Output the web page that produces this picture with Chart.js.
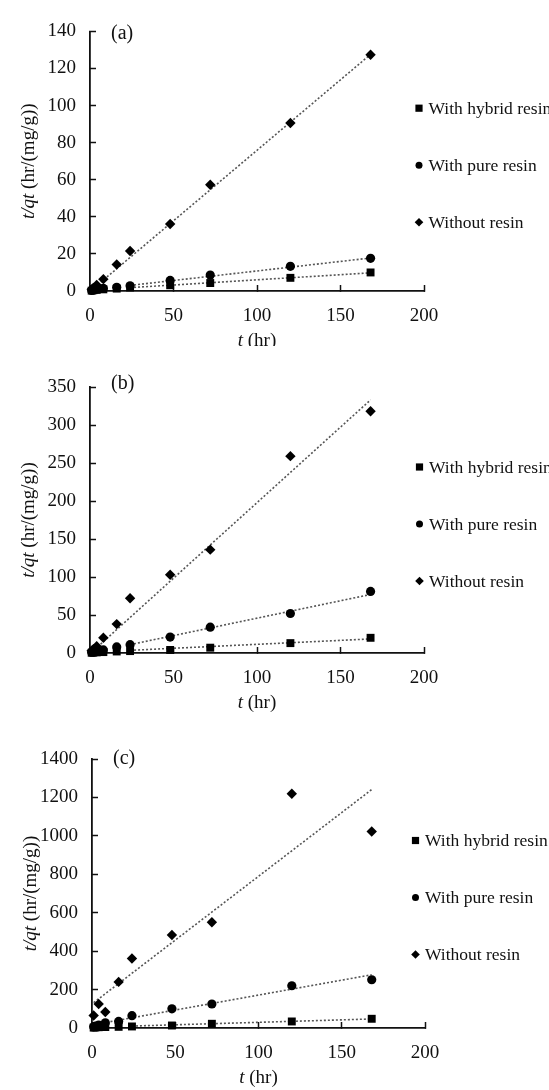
<!DOCTYPE html>
<html>
<head>
<meta charset="utf-8">
<title>t/qt vs t</title>
<script src="https://cdn.jsdelivr.net/npm/chart.js@4.4.1/dist/chart.umd.min.js"></script>
<style>
  html, body { margin: 0; padding: 0; background: #fff; overflow: hidden; }
  canvas { display: block; }
</style>
</head>
<body>
<canvas id="chart-a" width="549" height="346"></canvas>
<canvas id="chart-b" width="549" height="368"></canvas>
<canvas id="chart-c" width="549" height="376"></canvas>
<script>
// sampling times (hr), shared by every series
const times = [1, 2, 4, 8, 16, 24, 48, 72, 120, 168];
const seriesNames = ['With hybrid resin', 'With pure resin', 'Without resin'];
const xTicks = [0, 50, 100, 150, 200];

// (a)
const aHybrid  = [0.2, 0.4, 0.6, 0.9, 1.3, 1.9, 3.1, 4.3, 7.1, 10.0];
const aPure    = [0.3, 0.6, 1.0, 1.4, 2.0, 2.8, 5.7, 8.6, 13.3, 17.6];
const aWithout = [0.9, 1.7, 3.2, 6.4, 14.3, 21.6, 36.1, 57.3, 90.6, 127.4];
const aTrendX  = [[24, 168], [24, 168], [1, 168]];
const aTrendY  = [[1.8, 9.8], [3.0, 17.8], [0.6, 127.6]];
const aTicks   = [0, 20, 40, 60, 80, 100, 120, 140];

// (b)
const bHybrid  = [0.3, 0.5, 0.8, 1.2, 2.0, 2.5, 4.0, 7.0, 13.0, 20.0];
const bPure    = [1.0, 1.5, 2.5, 4.0, 8.0, 11.0, 21.0, 34.0, 52.0, 81.0];
const bWithout = [3, 5, 9, 20, 38, 72, 103, 136, 259, 318];
const bTrendX  = [[24, 168], [24, 168], [1, 168]];
const bTrendY  = [[3.5, 18.5], [11, 77], [1, 333]];
const bTicks   = [0, 50, 100, 150, 200, 250, 300, 350];

// (c)
const cHybrid  = [2, 3, 4, 5, 6, 8, 13, 22, 34, 48];
const cPure    = [6, 10, 15, 27, 34, 64, 100, 125, 220, 251];
const cWithout = [65, null, 125, 83, 240, 362, 484, 550, 1219, 1023];
const cTrendX  = [[24, 168], [4, 168], [1, 168]];
const cTrendY  = [[10, 47], [22, 277], [132, 1241]];
const cTicks   = [0, 200, 400, 600, 800, 1000, 1200, 1400];

const ink = '#111';
const markColor = '#000';
const serif = '"Liberation Serif", "Times New Roman", serif';
const markerStyles = ['rect', 'circle', 'rectRot'];
const markerRadius = [5.6, 4.6, 5.2];

function legendMarker(ctx, style, x, y, r) {
    ctx.beginPath();
    if (style === 'rect') {
        ctx.rect(x - r, y - r, 2 * r, 2 * r);
    } else if (style === 'circle') {
        ctx.arc(x, y, r, 0, Math.PI * 2);
    } else {
        ctx.moveTo(x - r, y);
        ctx.lineTo(x, y - r);
        ctx.lineTo(x + r, y);
        ctx.lineTo(x, y + r);
        ctx.closePath();
    }
    ctx.fill();
}

// draws [style, text] parts centred on (0,0) of the current transform
function mixedText(ctx, parts, size) {
    let total = 0;
    parts.forEach(p => { ctx.font = `${p[0]}${size}px ${serif}`; total += ctx.measureText(p[1]).width; });
    let x = -total / 2;
    parts.forEach(p => {
        ctx.font = `${p[0]}${size}px ${serif}`;
        ctx.fillText(p[1], x, 0);
        x += ctx.measureText(p[1]).width;
    });
}

const decor = {
    id: 'decor',
    afterDraw(chart, args, opts) {
        const { ctx, chartArea: area } = chart;
        ctx.save();
        ctx.fillStyle = ink;
        ctx.textBaseline = 'middle';
        ctx.textAlign = 'left';

        ctx.font = `20px ${serif}`;
        ctx.fillText(opts.tag, area.left + 21, area.top + opts.tagDy);

        // legend on the right
        const midY = (area.top + area.bottom) / 2 + 4;
        ctx.font = `17.5px ${serif}`;
        seriesNames.forEach((name, i) => {
            const y = midY + (i - 1) * 57;
            const x = area.right + opts.legendDx;
            ctx.fillStyle = markColor;
            legendMarker(ctx, markerStyles[i], x, y, [3.6, 3.5, 4.3][i]);
            ctx.fillStyle = ink;
            ctx.fillText(name, x + 9.5, y + 1);
        });

        // axis titles
        ctx.save();
        ctx.translate((area.left + area.right) / 2, area.bottom + 50);
        mixedText(ctx, [['italic ', 't'], ['', ' (hr)']], 19);
        ctx.restore();

        ctx.save();
        ctx.translate(area.left - 61, (area.top + area.bottom) / 2);
        ctx.rotate(-Math.PI / 2);
        mixedText(ctx, [['italic ', 't/qt'], ['', ' (hr/(mg/g))']], 19);
        ctx.restore();

        ctx.restore();
    }
};

function axisStyle(ticks, maxVal) {
    return {
        type: 'linear',
        min: 0,
        max: maxVal,
        afterBuildTicks: s => { s.ticks = ticks.map(v => ({ value: v })); },
        border: { display: true, color: ink, width: 1.8 },
        grid: { drawOnChartArea: false, drawTicks: true, tickLength: -6, tickColor: ink, tickWidth: 1.5 },
        ticks: { color: ink, font: { family: serif, size: 19 }, padding: 20, callback: v => String(v) }
    };
}

function makeChart(id, values, trendX, trendY, yTicks, panel) {
    const markers = values.map((vals, s) => ({
        label: seriesNames[s],
        data: times.map((t, i) => ({ x: t, y: vals[i] })),
        pointStyle: markerStyles[s],
        pointRadius: markerRadius[s],
        backgroundColor: markColor,
        borderColor: markColor,
        borderWidth: 0,
        clip: false,
        order: 0
    }));
    const trends = trendX.map((xs, s) => ({
        label: seriesNames[s] + ' trend',
        data: xs.map((x, i) => ({ x: x, y: trendY[s][i] })),
        showLine: true,
        pointRadius: 0,
        borderColor: '#555',
        borderWidth: 1.6,
        borderDash: [2, 2],
        clip: false,
        order: 1
    }));

    const x = axisStyle(xTicks, 200);
    x.afterFit = s => { s.height = panel.xAxisH; };
    const y = axisStyle(yTicks, yTicks[yTicks.length - 1]);
    y.afterFit = s => { s.width = panel.left; };

    new Chart(document.getElementById(id), {
        type: 'scatter',
        data: { datasets: markers.concat(trends) },
        options: {
            responsive: false,
            animation: false,
            events: [],
            layout: { padding: { top: panel.top, right: 549 - panel.right, left: 0, bottom: 0 } },
            plugins: {
                legend: { display: false },
                tooltip: { enabled: false },
                decor: { tag: panel.tag, tagDy: panel.tagDy, legendDx: panel.legendDx }
            },
            scales: { x: x, y: y }
        },
        plugins: [decor]
    });
}

makeChart('chart-a', [aHybrid, aPure, aWithout], aTrendX, aTrendY, aTicks,
    { tag: '(a)', top: 21, left: 90, right: 424, xAxisH: 55, tagDy: 2, legendDx: -5 });
makeChart('chart-b', [bHybrid, bPure, bWithout], bTrendX, bTrendY, bTicks,
    { tag: '(b)', top: 41, left: 90, right: 424, xAxisH: 61, tagDy: -3, legendDx: -4.5 });
makeChart('chart-c', [cHybrid, cPure, cWithout], cTrendX, cTrendY, cTicks,
    { tag: '(c)', top: 45, left: 92, right: 425, xAxisH: 62, tagDy: 0, legendDx: -9.5 });
</script>
</body>
</html>
